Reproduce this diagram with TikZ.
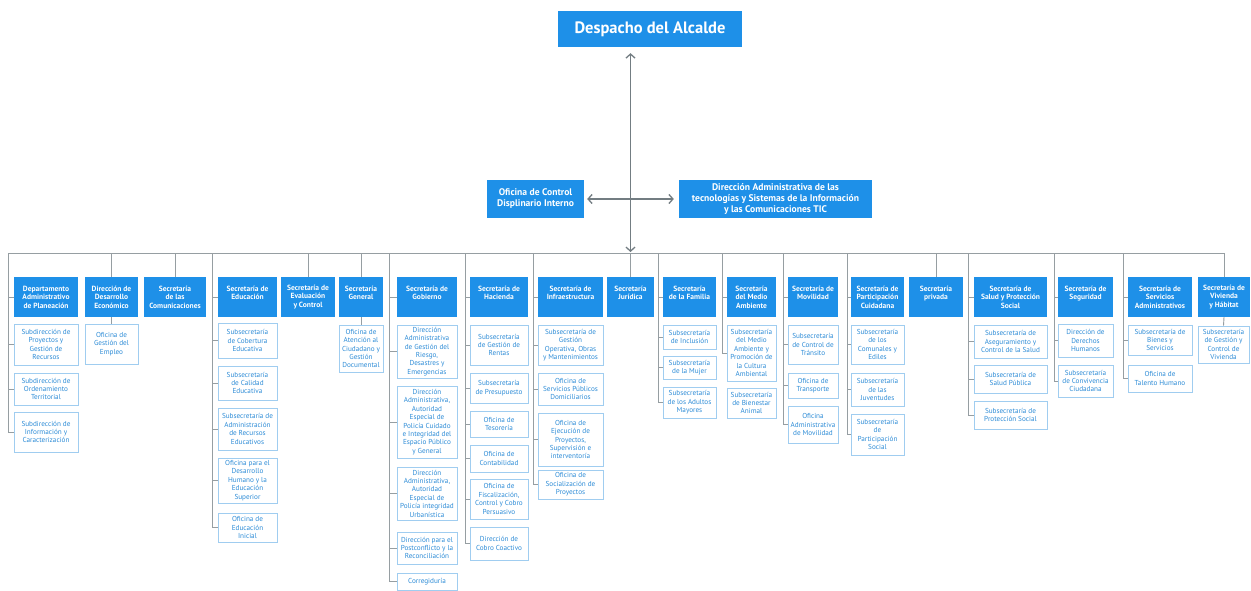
\documentclass[tikz,border=0pt]{standalone}
\usepackage{fontspec}
\setmainfont{PT Sans}
\usetikzlibrary{arrows.meta,calc}
\definecolor{hblue}{RGB}{30,144,232}
\definecolor{lblue}{RGB}{160,205,240}
\definecolor{tblue}{RGB}{45,140,215}
\definecolor{cgray}{RGB}{150,158,162}
\definecolor{agray}{RGB}{115,125,130}
\newcommand\mkbox[7]{\node[#1, minimum width={(#5-#3)*1pt}, minimum height={(#6-#4)*1pt}] (#2) at ({(#3+#5)/2},{(#4+#6)/2}) {#7};}
\newcommand\xl{\\\mbox{}}
\begin{document}
\begin{tikzpicture}[x=1pt,y=-1pt,
 hdr/.style={fill=hblue, text=white, font=\bfseries\fontsize{7.5}{8.6}\selectfont, align=center, inner sep=0.5pt},
 sub/.style={draw=lblue, line width=0.9pt, fill=white, text=tblue, font=\fontsize{7.2}{8.4}\selectfont, align=center, inner sep=0.5pt},
 conn/.style={draw=cgray, line width=0.9pt},
 arr/.style={draw=agray, line width=1.3pt, {Straight Barb[length=4pt,width=9pt]}-{Straight Barb[length=4pt,width=9pt]}}]
\useasboundingbox[fill=white] (0,0) rectangle (1251,591);

% top level
\mkbox{hdr, font=\bfseries\fontsize{16.5}{19}\selectfont}{desp}{558}{11}{742}{47}{Despacho del Alcalde}
\mkbox{hdr, font=\bfseries\fontsize{9.6}{11}\selectfont}{ocdi}{487}{180}{584}{218}{Oficina de Control\\Displinario Interno}
\mkbox{hdr, font=\bfseries\fontsize{9.6}{11}\selectfont}{tic}{679}{180}{872}{218}{Dirección Administrativa de las\\tecnologías y Sistemas de la Información\\y las Comunicaciones TIC}

% headers
\mkbox{hdr}{dap}{14}{277}{78}{317}{Departamento\\Administrativo\\de Planeación}
\mkbox{hdr}{dde}{85}{277}{138}{317}{Dirección de\\Desarrollo\\Económico}
\mkbox{hdr}{com}{144}{277}{206}{317}{Secretaría\\de las\\Comunicaciones}
\mkbox{hdr}{edu}{218}{277}{277}{317}{Secretaría de\\Educación\xl}
\mkbox{hdr}{eva}{281}{277}{335}{317}{Secretaría de\\Evaluación\\y Control}
\mkbox{hdr}{gen}{339}{277}{383}{317}{Secretaría\\General\xl}
\mkbox{hdr}{gob}{397}{277}{457}{317}{Secretaría de\\Gobierno\xl}
\mkbox{hdr}{hac}{470}{277}{528}{317}{Secretaría de\\Hacienda\xl}
\mkbox{hdr}{inf}{538}{277}{603}{317}{Secretaría de\\Infraestructura\xl}
\mkbox{hdr}{jur}{607}{277}{654}{317}{Secretaría\\Jurídica\xl}
\mkbox{hdr}{fam}{663}{277}{716}{317}{Secretaría\\de la Familia\xl}
\mkbox{hdr}{med}{727}{277}{776}{317}{Secretaría\\del Medio\\Ambiente}
\mkbox{hdr}{mov}{788}{277}{838}{317}{Secretaría de\\Movilidad\xl}
\mkbox{hdr}{par}{851}{277}{904}{317}{Secretaría de\\Participación\\Cuidadana}
\mkbox{hdr}{pri}{909}{277}{963}{317}{Secretaría\\privada\xl}
\mkbox{hdr}{sal}{974}{277}{1047}{317}{Secretaría de\\Salud y Protección\\Social}
\mkbox{hdr}{seg}{1058}{277}{1113}{317}{Secretaría de\\Seguridad\xl}
\mkbox{hdr}{sadm}{1128}{277}{1192}{317}{Secretaría de\\Servicios\\Administrativos}
\mkbox{hdr}{viv}{1198}{277}{1250}{317}{Secretaría de\\Vivienda\\y Hábitat}

% children
\mkbox{sub}{dap1}{14}{324}{78}{365}{Subdirección de\\Proyectos y\\Gestión de\\Recursos}
\mkbox{sub}{dap2}{14}{373}{78}{405}{Subdirección de\\Ordenamiento\\Territorial}
\mkbox{sub}{dap3}{14}{412}{78}{452}{Subdirección de\\Información y\\Caracterización}
\mkbox{sub}{dde1}{85}{324}{138}{364}{Oficina de\\Gestión del\\Empleo}
\mkbox{sub}{edu1}{218}{323}{277}{358}{Subsecretaría\\de Cobertura\\Educativa}
\mkbox{sub}{edu2}{218}{366}{277}{400}{Subsecretaría\\de Calidad\\Educativa}
\mkbox{sub}{edu3}{218}{408}{277}{450}{Subsecretaría de\\Administración\\de Recursos\\Educativos}
\mkbox{sub}{edu4}{218}{458}{277}{503}{Oficina para el\\Desarrollo\\Humano y la\\Educación\\Superior}
\mkbox{sub}{edu5}{218}{513}{277}{542}{Oficina de\\Educación\\Inicial}
\mkbox{sub}{gen1}{339}{325}{383}{372}{Oficina de\\Atención al\\Ciudadano y\\Gestión\\Documental}
\mkbox{sub}{gob1}{397}{325}{457}{378}{Dirección\\Administrativa\\de Gestión del\\Riesgo,\\Desastres y\\Emergencias}
\mkbox{sub}{gob2}{397}{386}{457}{458}{Dirección\\Administrativa,\\Autoridad\\Especial de\\Policía Cuidado\\e Integridad del\\Espacio Público\\y General}
\mkbox{sub}{gob3}{397}{467}{457}{520}{Dirección\\Administrativa,\\Autoridad\\Especial de\\Policía integridad\\Urbanística}
\mkbox{sub}{gob4}{397}{532}{457}{564}{Dirección para el\\Postconflicto y la\\Reconciliación}
\mkbox{sub}{gob5}{397}{573}{457}{590}{Corregiduría}
\mkbox{sub}{hac1}{470}{325}{528}{365}{Subsecretaría\\de Gestión de\\Rentas}
\mkbox{sub}{hac2}{470}{373}{528}{403}{Subsecretaría\\de Presupuesto}
\mkbox{sub}{hac3}{470}{411}{528}{437}{Oficina de\\Tesorería}
\mkbox{sub}{hac4}{470}{445}{528}{472}{Oficina de\\Contabilidad}
\mkbox{sub}{hac5}{470}{479}{528}{519}{Oficina de\\Fiscalización,\\Control y Cobro\\Persuasivo}
\mkbox{sub}{hac6}{470}{527}{528}{560}{Dirección de\\Cobro Coactivo}
\mkbox{sub}{inf1}{538}{325}{603}{365}{Subsecretaría de\\Gestión\\Operativa, Obras\\y Mantenimientos}
\mkbox{sub}{inf2}{538}{373}{603}{405}{Oficina de\\Servicios Públicos\\Domiciliarios}
\mkbox{sub}{inf3}{538}{413}{603}{466}{Oficina de\\Ejecución de\\Proyectos,\\Supervisión e\\interventoría}
\mkbox{sub}{inf4}{538}{470}{603}{499}{Oficina de\\Socialización de\\Proyectos}
\mkbox{sub}{fam1}{663}{325}{716}{349}{Subsecretaría\\de Inclusión}
\mkbox{sub}{fam2}{663}{356}{716}{379}{Subsecretaría\\de la Mujer}
\mkbox{sub}{fam3}{663}{387}{716}{418}{Subsecretaría\\de los Adultos\\Mayores}
\mkbox{sub}{med1}{727}{325}{776}{381}{Subsecretaría\\del Medio\\Ambiente y\\Promoción de\\la Cultura\\Ambiental}
\mkbox{sub}{med2}{727}{388}{776}{418}{Subsecretaría\\de Bienestar\\Animal}
\mkbox{sub}{mov1}{788}{325}{838}{364}{Subsecretaría\\de Control de\\Tránsito}
\mkbox{sub}{mov2}{788}{373}{838}{398}{Oficina de\\Transporte}
\mkbox{sub}{mov3}{788}{406}{838}{443}{Oficina\\Administrativa\\de Movilidad}
\mkbox{sub}{par1}{851}{325}{904}{364}{Subsecretaría\\de los\\Comunales y\\Ediles}
\mkbox{sub}{par2}{851}{373}{904}{406}{Subsecretaría\\de las\\Juventudes}
\mkbox{sub}{par3}{851}{414}{904}{455}{Subsecretaría\\de\\Participación\\Social}
\mkbox{sub}{sal1}{974}{325}{1047}{358}{Subsecretaría de\\Aseguramiento y\\Control de la Salud}
\mkbox{sub}{sal2}{974}{365}{1047}{393}{Subsecretaría de\\Salud Pública}
\mkbox{sub}{sal3}{974}{401}{1047}{429}{Subsecretaría de\\Protección Social}
\mkbox{sub}{seg1}{1058}{324}{1113}{357}{Dirección de\\Derechos\\Humanos}
\mkbox{sub}{seg2}{1058}{365}{1113}{397}{Subsecretaría\\de Convivencia\\Ciudadana}
\mkbox{sub}{sadm1}{1128}{325}{1192}{355}{Subsecretaría de\\Bienes y\\Servicios}
\mkbox{sub}{sadm2}{1128}{365}{1192}{392}{Oficina de\\Talento Humano}
\mkbox{sub}{viv1}{1198}{326}{1249}{363}{Subsecretaría\\de Gestión y\\Control de\\Vivienda}

% bus
\coordinate (busL) at (8,253);
\coordinate (busR) at (1224,253);
\draw[conn] (busL) -- (busR);

% spines with ticks
\coordinate (sA) at (8,253);
\coordinate (sB) at (212,253);
\coordinate (sC) at (389,253);
\coordinate (sD) at (465,253);
\coordinate (sE) at (533,253);
\coordinate (sF) at (658,253);
\coordinate (sG) at (722,253);
\coordinate (sH) at (783,253);
\coordinate (sI) at (847,253);
\coordinate (sJ) at (968,253);
\coordinate (sK) at (1054,253);
\coordinate (sL) at (1123,253);
\foreach \n in {dap,dap1,dap2,dap3} \draw[conn] (sA) |- (\n.west);
\foreach \n in {edu,edu1,edu2,edu3,edu4,edu5} \draw[conn] (sB) |- (\n.west);
\foreach \n in {gob,gob1,gob2,gob3,gob4,gob5} \draw[conn] (sC) |- (\n.west);
\foreach \n in {hac,hac1,hac2,hac3,hac4,hac5,hac6} \draw[conn] (sD) |- (\n.west);
\foreach \n in {inf,inf1,inf2,inf3,inf4} \draw[conn] (sE) |- (\n.west);
\foreach \n in {fam,fam1,fam2,fam3} \draw[conn] (sF) |- (\n.west);
\foreach \n in {med,med1} \draw[conn] (sG) |- (\n.west);
\foreach \n in {mov,mov1,mov2,mov3} \draw[conn] (sH) |- (\n.west);
\foreach \n in {par,par1,par2,par3} \draw[conn] (sI) |- (\n.west);
\foreach \n in {sal,sal1,sal2,sal3} \draw[conn] (sJ) |- (\n.west);
\foreach \n in {seg,seg1,seg2} \draw[conn] (sK) |- (\n.west);
\foreach \n in {sadm,sadm1,sadm2} \draw[conn] (sL) |- (\n.west);

% direct drops
\foreach \n in {dde,com,eva,gen,jur,pri,viv} \draw[conn] (\n.north) -- (\n.north |- busL);
\draw[conn] (dde.south) -- (dde1.north);
\draw[conn] (gen.south) -- (gen1.north);
\draw[conn] (viv.south) -- (viv1.north);

% arrows
\draw[arr] ($(desp.south -| jur.north)+(0,6)$) -- ($(jur.north |- busL)+(0,-1)$);
\draw[arr] ([xshift=3pt]ocdi.east) -- ([xshift=-5pt]tic.west);
\end{tikzpicture}
\end{document}
